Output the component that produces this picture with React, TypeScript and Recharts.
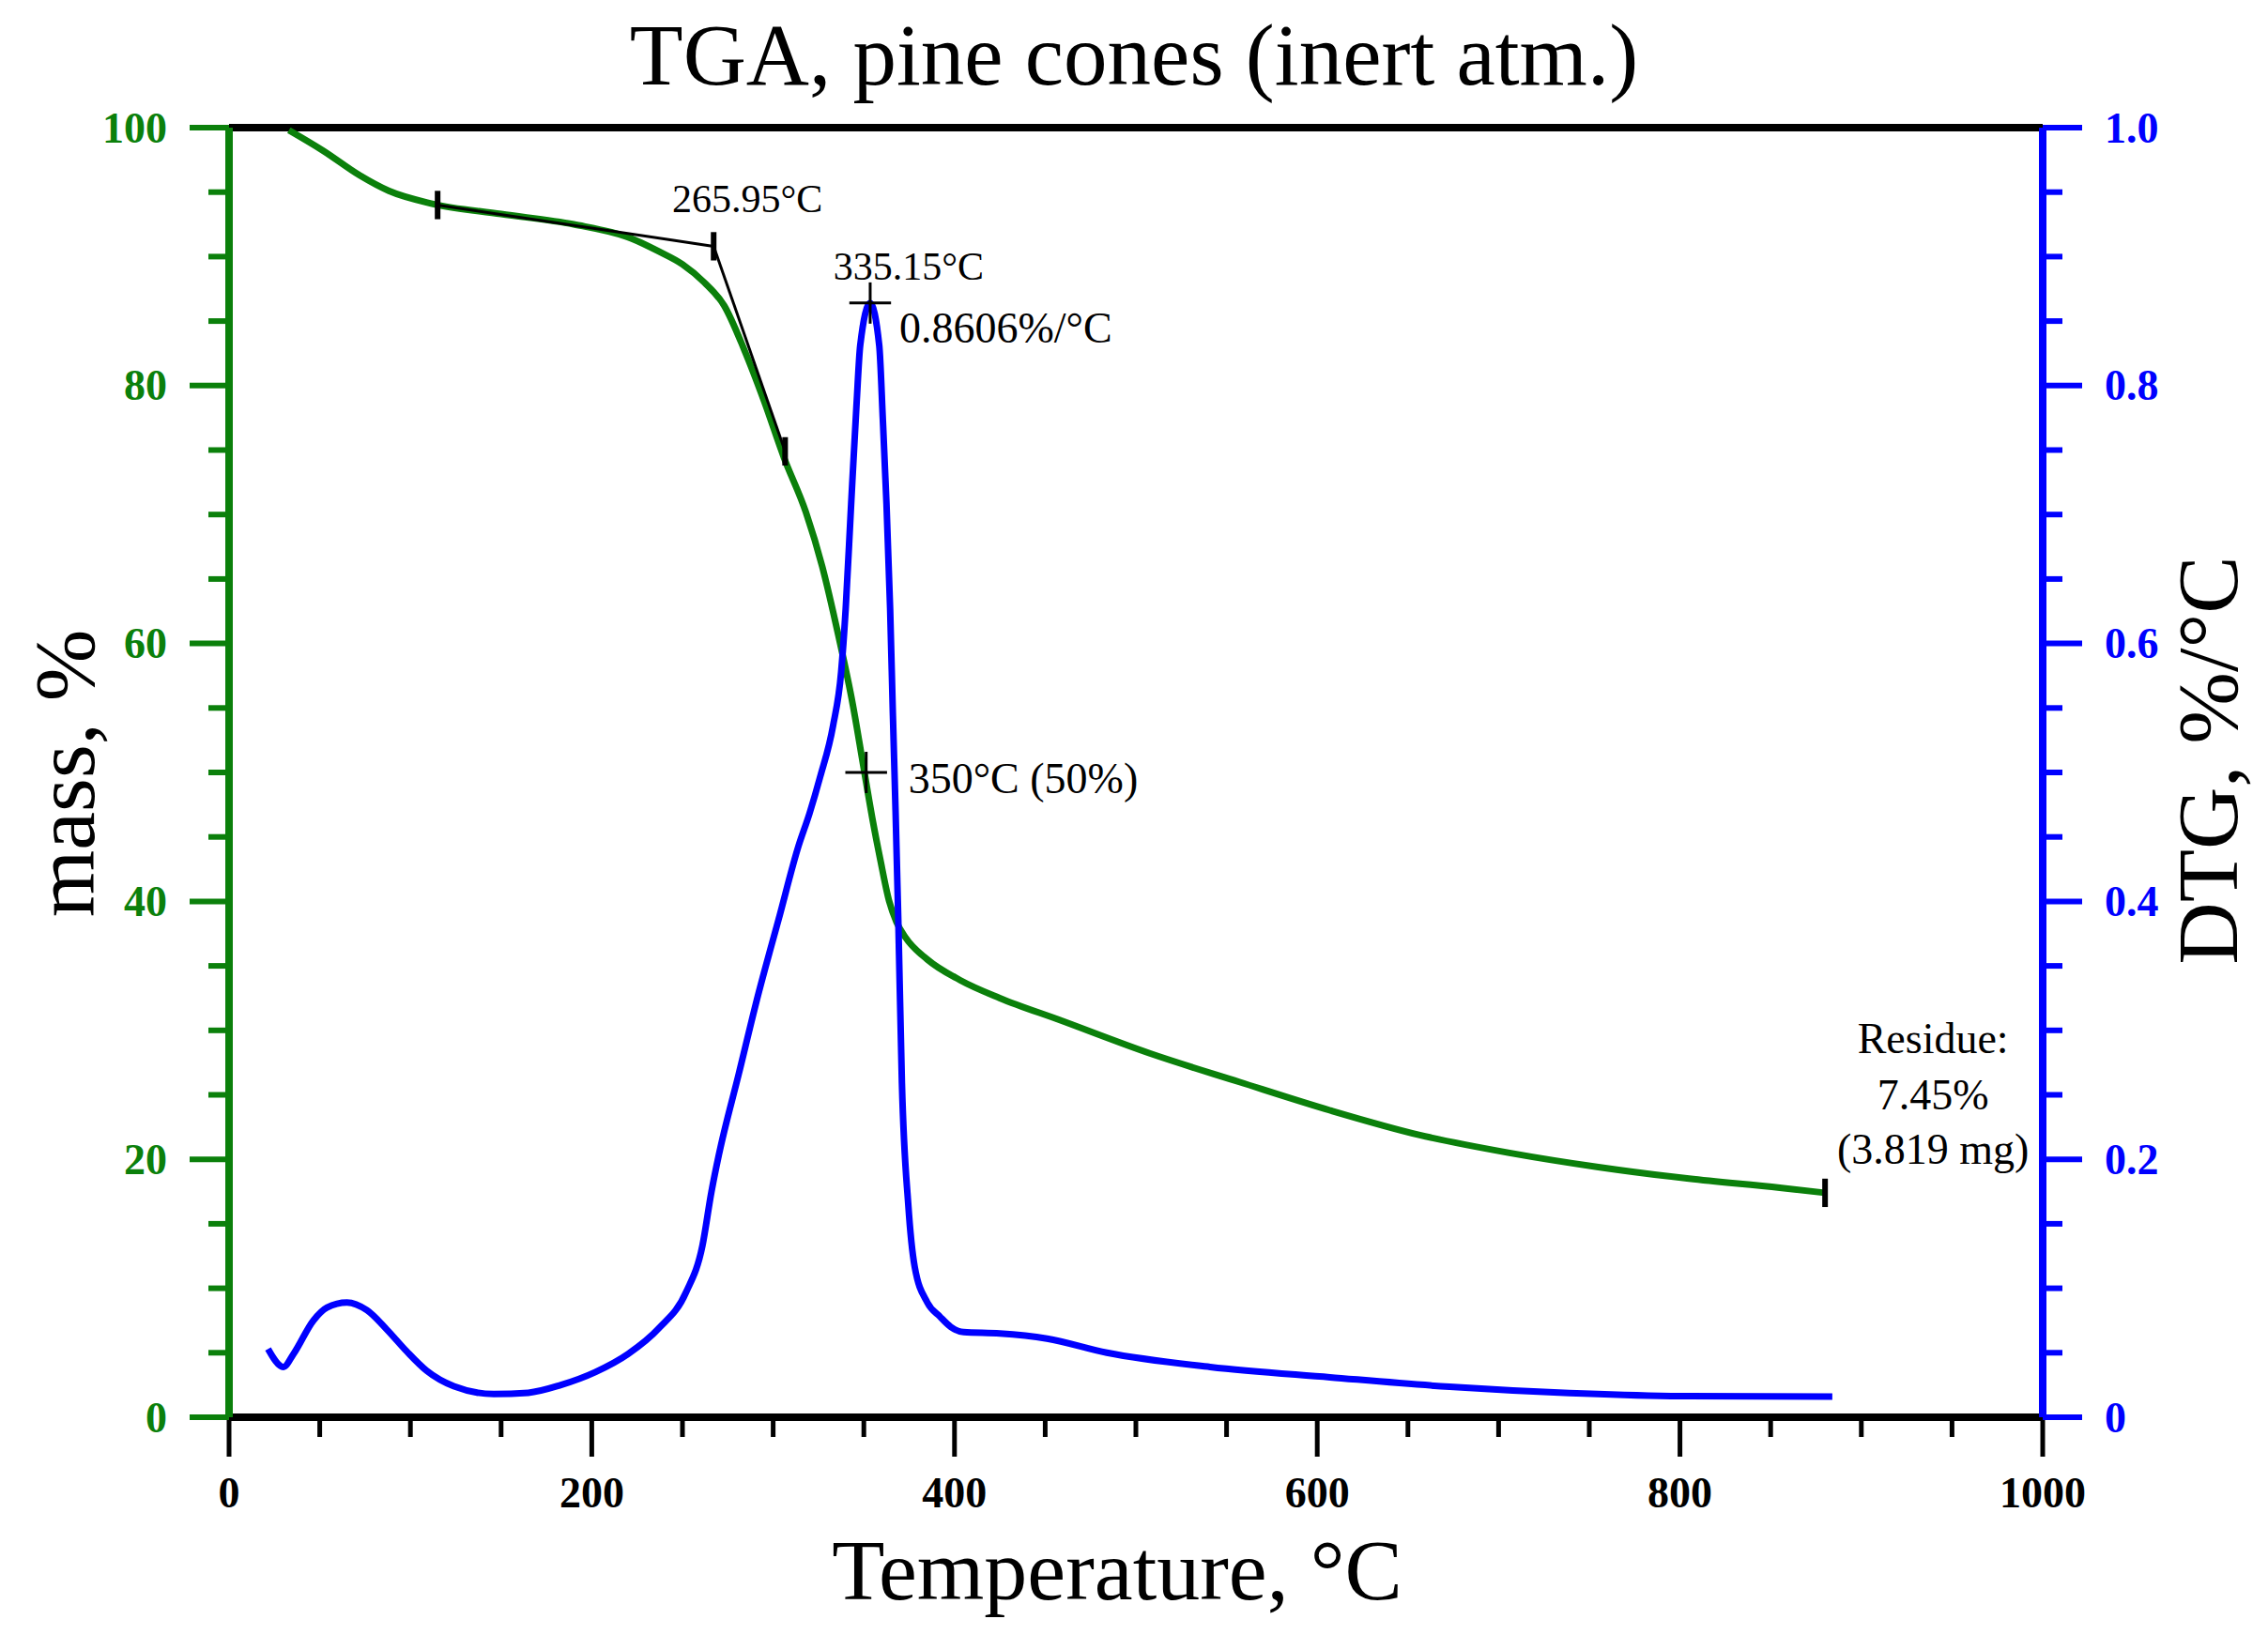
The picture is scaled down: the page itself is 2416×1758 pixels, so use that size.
import React from "react"
import { LineChart, Line, XAxis, YAxis, ReferenceLine, ReferenceDot } from "recharts"

// mass curve (TGA), temperature in °C and mass in %
const massTemp = [33, 52, 72, 88, 112, 150, 190, 222, 237, 250, 262, 273, 284, 295, 306, 318, 327, 336, 344, 349.5, 355, 359, 364, 368, 373, 385, 403, 425, 458, 508, 557, 607, 656, 706, 755, 805, 855, 880]
const massValue = [99.8, 98.2, 96.3, 95.1, 94.1, 93.3, 92.5, 91.4, 90.4, 89.4, 88.0, 86.2, 82.8, 78.8, 74.4, 70.2, 66.0, 60.6, 55.2, 50.7, 46.2, 43.3, 40.0, 38.4, 37.2, 35.5, 33.9, 32.5, 30.8, 28.2, 26.0, 23.8, 21.9, 20.5, 19.4, 18.5, 17.8, 17.4]

// derivative curve (DTG), %/°C
const dtgTemp = [21.5, 30, 35.5, 46.5, 54, 65, 76, 87, 98, 109, 124, 146, 165, 183, 202, 220, 237, 252, 261, 266, 270, 281, 292, 303, 314, 320, 326, 333, 337.5, 340, 343, 346, 348, 353.5, 358.5, 360.5, 362.5, 364.5, 366, 367.5, 369, 371, 374.5, 378, 385, 392, 398, 405, 425, 451, 484, 541, 607, 673, 739, 805, 884]
const dtgValue = [0.053, 0.039, 0.049, 0.075, 0.085, 0.089, 0.083, 0.068, 0.051, 0.036, 0.024, 0.018, 0.019, 0.025, 0.035, 0.049, 0.069, 0.097, 0.133, 0.175, 0.203, 0.266, 0.329, 0.386, 0.443, 0.468, 0.497, 0.536, 0.578, 0.627, 0.708, 0.786, 0.831, 0.864, 0.831, 0.773, 0.708, 0.627, 0.546, 0.470, 0.386, 0.259, 0.165, 0.117, 0.089, 0.078, 0.070, 0.066, 0.065, 0.061, 0.050, 0.039, 0.031, 0.0236, 0.0187, 0.0163, 0.016]

// ticks
const tempTicks = [0, 50, 100, 150, 200, 250, 300, 350, 400, 450, 500, 550, 600, 650, 700, 750, 800, 850, 900, 950, 1000]
const massTicks = [0, 5, 10, 15, 20, 25, 30, 35, 40, 45, 50, 55, 60, 65, 70, 75, 80, 85, 90, 95, 100]
const dtgTicks = [0, 0.05, 0.1, 0.15, 0.2, 0.25, 0.3, 0.35, 0.4, 0.45, 0.5, 0.55, 0.6, 0.65, 0.7, 0.75, 0.8, 0.85, 0.9, 0.95, 1]

// annotations
const onsetTemp = [115, 267.2, 306.6]
const onsetMass = [94.0, 90.8, 74.9]
const peakPoint = { t: 353.5, v: 0.864 }
const halfPoint = { t: 351.3, v: 50 }
const residuePoint = { t: 880, v: 17.4 }

const massData = massTemp.map((t, i) => ({ t, v: massValue[i] }))
const dtgData = dtgTemp.map((t, i) => ({ t, v: dtgValue[i] }))

const GREEN = "#0b800b"
const BLUE = "#0000ff"
const FONT = "'Liberation Serif', 'Times New Roman', serif"

function LeftTick(props: any) {
  const { x, y, payload } = props
  const v = payload.value
  const major = v % 20 === 0
  return (
    <g>
      <line x1={x - (major ? 42 : 22)} x2={x} y1={y} y2={y} stroke={GREEN} strokeWidth={6} />
      {major && (
        <text x={x - 66} y={y} dy="0.34em" textAnchor="end" fontFamily={FONT} fontWeight="bold" fontSize={46} fill={GREEN}>
          {v}
        </text>
      )}
    </g>
  )
}

function RightTick(props: any) {
  const { x, y, payload } = props
  const v = payload.value
  const major = Math.round(v * 100) % 20 === 0
  return (
    <g>
      <line x1={x} x2={x + (major ? 42 : 21)} y1={y} y2={y} stroke={BLUE} strokeWidth={6} />
      {major && (
        <text x={x + 66} y={y} dy="0.34em" textAnchor="start" fontFamily={FONT} fontWeight="bold" fontSize={46} fill={BLUE}>
          {v === 0 ? "0" : v.toFixed(1)}
        </text>
      )}
    </g>
  )
}

function BottomTick(props: any) {
  const { x, y, payload } = props
  const v = payload.value
  const major = v % 200 === 0
  return (
    <g>
      <line x1={x} x2={x} y1={y} y2={y + (major ? 42 : 21)} stroke="#000" strokeWidth={5} />
      {major && (
        <text x={x} y={y + 96} textAnchor="middle" fontFamily={FONT} fontWeight="bold" fontSize={46} fill="#000">
          {v}
        </text>
      )}
    </g>
  )
}

function Note(props: any) {
  const { viewBox, rows, shiftX, baseYs, align, fontPx } = props
  if (!viewBox) return null
  const cx = viewBox.x + (viewBox.width || 0) / 2
  const cy = viewBox.y + (viewBox.height || 0) / 2
  return (
    <g>
      {rows.map((s: string, i: number) => (
        <text key={i} x={cx + shiftX} y={cy + baseYs[i]} textAnchor={align} fontFamily={FONT} fontSize={fontPx} fill="#000">
          {s}
        </text>
      ))}
    </g>
  )
}

const ids = { xAxisId: "temp" }

export default function App() {
  const barH = 1.1
  const plusW = 11.5
  return (
    <div style={{ position: "absolute", left: 0, top: 0, width: 2416, height: 1758, background: "#fff" }}>
      <LineChart width={2416} height={1758} margin={{ top: 136, right: 90, bottom: 148, left: 94 }}>
        <XAxis
          xAxisId="temp"
          dataKey="t"
          type="number"
          domain={[0, 1000]}
          ticks={tempTicks}
          interval={0}
          height={100}
          tickSize={0}
          tickMargin={0}
          tickLine={false}
          axisLine={{ stroke: "#000", strokeWidth: 8 }}
          tick={<BottomTick />}
          allowDataOverflow
        />
        <YAxis
          yAxisId="mass"
          orientation="left"
          type="number"
          domain={[0, 100]}
          ticks={massTicks}
          interval={0}
          width={150}
          tickSize={0}
          tickMargin={0}
          tickLine={false}
          axisLine={{ stroke: GREEN, strokeWidth: 8 }}
          tick={<LeftTick />}
          allowDataOverflow
        />
        <YAxis
          yAxisId="dtg"
          orientation="right"
          type="number"
          domain={[0, 1]}
          ticks={dtgTicks}
          interval={0}
          width={150}
          tickSize={0}
          tickMargin={0}
          tickLine={false}
          axisLine={{ stroke: BLUE, strokeWidth: 8 }}
          tick={<RightTick />}
          allowDataOverflow
        />
        <ReferenceLine {...ids} yAxisId="mass" y={100} stroke="#000" strokeWidth={8} />

        <Line
          {...ids}
          yAxisId="mass"
          data={massData}
          dataKey="v"
          type="monotone"
          stroke={GREEN}
          strokeWidth={7}
          dot={false}
          activeDot={false}
          isAnimationActive={false}
        />
        <Line
          {...ids}
          yAxisId="dtg"
          data={dtgData}
          dataKey="v"
          type="monotone"
          stroke={BLUE}
          strokeWidth={7}
          dot={false}
          activeDot={false}
          isAnimationActive={false}
        />

        {/* onset tangents */}
        <ReferenceLine
          {...ids}
          yAxisId="mass"
          segment={[{ x: onsetTemp[0], y: onsetMass[0] }, { x: onsetTemp[1], y: onsetMass[1] }]}
          stroke="#000"
          strokeWidth={3}
        />
        <ReferenceLine
          {...ids}
          yAxisId="mass"
          segment={[{ x: onsetTemp[1], y: onsetMass[1] }, { x: onsetTemp[2], y: onsetMass[2] }]}
          stroke="#000"
          strokeWidth={3}
        />
        {onsetTemp.map((t, i) => (
          <ReferenceLine
            key={"bar" + i}
            {...ids}
            yAxisId="mass"
            segment={[{ x: t, y: onsetMass[i] - barH }, { x: t, y: onsetMass[i] + barH }]}
            stroke="#000"
            strokeWidth={6}
          />
        ))}
        <ReferenceLine
          {...ids}
          yAxisId="mass"
          segment={[{ x: residuePoint.t, y: residuePoint.v - barH }, { x: residuePoint.t, y: residuePoint.v + barH }]}
          stroke="#000"
          strokeWidth={6}
        />

        {/* peak cross on DTG */}
        <ReferenceLine
          {...ids}
          yAxisId="dtg"
          segment={[{ x: peakPoint.t - plusW, y: peakPoint.v }, { x: peakPoint.t + plusW, y: peakPoint.v }]}
          stroke="#000"
          strokeWidth={3}
        />
        <ReferenceLine
          {...ids}
          yAxisId="dtg"
          segment={[{ x: peakPoint.t, y: peakPoint.v - 0.016 }, { x: peakPoint.t, y: peakPoint.v + 0.016 }]}
          stroke="#000"
          strokeWidth={3}
        />

        {/* 50 % cross */}
        <ReferenceLine
          {...ids}
          yAxisId="mass"
          segment={[{ x: halfPoint.t - plusW, y: halfPoint.v }, { x: halfPoint.t + plusW, y: halfPoint.v }]}
          stroke="#000"
          strokeWidth={3}
        />
        <ReferenceLine
          {...ids}
          yAxisId="mass"
          segment={[{ x: halfPoint.t, y: halfPoint.v - 1.6 }, { x: halfPoint.t, y: halfPoint.v + 1.6 }]}
          stroke="#000"
          strokeWidth={3}
        />

        <ReferenceDot
          {...ids}
          yAxisId="mass"
          x={onsetTemp[1]}
          y={onsetMass[1]}
          r={1}
          fill="none"
          stroke="none"
          label={<Note rows={["265.95°C"]} shiftX={36} baseYs={[-36]} align="middle" fontPx={42} />}
        />
        <ReferenceDot
          {...ids}
          yAxisId="dtg"
          x={peakPoint.t}
          y={peakPoint.v}
          r={1}
          fill="none"
          stroke="none"
          label={<Note rows={["335.15°C"]} shiftX={41} baseYs={[-25]} align="middle" fontPx={42} />}
        />
        <ReferenceDot
          {...ids}
          yAxisId="dtg"
          x={peakPoint.t}
          y={peakPoint.v}
          r={1}
          fill="none"
          stroke="none"
          label={<Note rows={["0.8606%/°C"]} shiftX={31} baseYs={[42]} align="start" fontPx={46} />}
        />
        <ReferenceDot
          {...ids}
          yAxisId="mass"
          x={halfPoint.t}
          y={halfPoint.v}
          r={1}
          fill="none"
          stroke="none"
          label={<Note rows={["350°C (50%)"]} shiftX={45} baseYs={[22]} align="start" fontPx={46} />}
        />
        <ReferenceDot
          {...ids}
          yAxisId="mass"
          x={residuePoint.t}
          y={residuePoint.v}
          r={1}
          fill="none"
          stroke="none"
          label={<Note rows={["Residue:", "7.45%", "(3.819 mg)"]} shiftX={115} baseYs={[-149, -89, -31]} align="middle" fontPx={46} />}
        />
      </LineChart>

      <svg width={2416} height={1758} style={{ position: "absolute", left: 0, top: 0, pointerEvents: "none" }}>
        <text x={1208} y={90} textAnchor="middle" fontFamily={FONT} fontSize={93} fill="#000">
          TGA, pine cones (inert atm.)
        </text>
        <text x={1190} y={1704} textAnchor="middle" fontFamily={FONT} fontSize={92} fill="#000">
          Temperature, °C
        </text>
        <text transform="translate(100,824) rotate(-90)" textAnchor="middle" fontFamily={FONT} fontSize={92} fill="#000">
          mass, %
        </text>
        <text transform="translate(2383,810) rotate(-90)" textAnchor="middle" fontFamily={FONT} fontSize={92} fill="#000">
          DTG, %/°C
        </text>
      </svg>
    </div>
  )
}
